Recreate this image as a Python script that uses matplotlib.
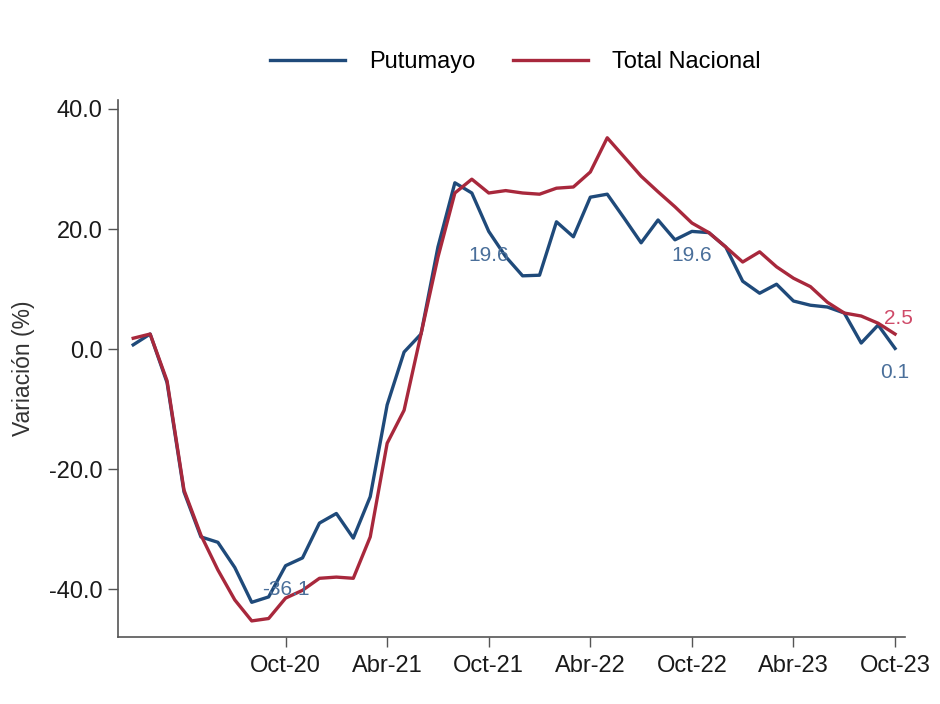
import matplotlib
matplotlib.use("Agg")
import matplotlib.pyplot as plt
import numpy as np

plt.rcParams['font.family'] = ['Liberation Sans', 'DejaVu Sans']

# Monthly series, Jan-20 .. Oct-23
months = ["Ene-20","Feb-20","Mar-20","Abr-20","May-20","Jun-20","Jul-20","Ago-20","Sep-20","Oct-20",
          "Nov-20","Dic-20","Ene-21","Feb-21","Mar-21","Abr-21","May-21","Jun-21","Jul-21","Ago-21",
          "Sep-21","Oct-21","Nov-21","Dic-21","Ene-22","Feb-22","Mar-22","Abr-22","May-22","Jun-22",
          "Jul-22","Ago-22","Sep-22","Oct-22","Nov-22","Dic-22","Ene-23","Feb-23","Mar-23","Abr-23",
          "May-23","Jun-23","Jul-23","Ago-23","Sep-23","Oct-23"]

putumayo = [0.7, 2.5, -5.6, -23.8, -31.3, -32.2, -36.4, -42.2, -41.3, -36.1,
            -34.8, -29.0, -27.4, -31.5, -24.6, -9.3, -0.5, 2.5, 17.0, 27.7,
            26.0, 19.6, 15.4, 12.2, 12.3, 21.2, 18.7, 25.3, 25.8, 21.8,
            17.7, 21.5, 18.2, 19.6, 19.4, 17.0, 11.3, 9.3, 10.8, 8.0,
            7.3, 7.0, 6.0, 1.0, 4.0, 0.1]

nacional = [1.8, 2.5, -5.3, -23.5, -31.0, -36.8, -41.8, -45.3, -44.9, -41.5,
            -40.2, -38.2, -38.0, -38.2, -31.3, -15.7, -10.2, 2.5, 15.3, 26.0,
            28.3, 26.0, 26.4, 26.0, 25.8, 26.8, 27.0, 29.5, 35.2, 32.0,
            28.8, 26.2, 23.7, 21.0, 19.4, 17.0, 14.5, 16.2, 13.7, 11.8,
            10.4, 7.8, 6.0, 5.5, 4.3, 2.5]

tick_labels = ["Oct-20", "Abr-21", "Oct-21", "Abr-22", "Oct-22", "Abr-23", "Oct-23"]
y_ticks = [-40.0, -20.0, 0.0, 20.0, 40.0]

# labelled points: (index, value text)
labels_put = [(9, "-36.1"), (21, "19.6"), (33, "19.6"), (45, "0.1")]
labels_nac = [(45, "2.5")]

c_put = "#1f4a7a"
c_nac = "#a8283c"

fig = plt.figure(figsize=(9.4, 7.04), dpi=100)
ax = fig.add_axes([0.1255, 0.095, 0.8375, 0.763])

x = np.arange(len(months))
ax.plot(x, putumayo, color=c_put, lw=2.4, label="Putumayo")
ax.plot(x, nacional, color=c_nac, lw=2.4, label="Total Nacional")

ax.set_xlim(-0.9, 45.6)
ax.set_ylim(-48, 41.5)

tick_pos = [months.index(t) for t in tick_labels]
ax.set_xticks(tick_pos)
ax.set_xticklabels(tick_labels)
ax.set_yticks(y_ticks)
ax.set_yticklabels([f"{v:.1f}" for v in y_ticks])

for s in ["top", "right"]:
    ax.spines[s].set_visible(False)
for s in ["left", "bottom"]:
    ax.spines[s].set_color("#555555")
    ax.spines[s].set_linewidth(1.2)
ax.tick_params(axis="both", colors="#555555", labelcolor="#1a1a1a", labelsize=17, length=7, width=1.0)
ax.tick_params(axis="x", pad=6)
ax.tick_params(axis="y", pad=4)

ax.set_ylabel("Variación (%)", fontsize=16.5, color="#333333", labelpad=10)

for i, t in labels_put:
    ax.annotate(t, (x[i], putumayo[i]), xytext=(0, -24), textcoords="offset pixels",
                ha="center", va="center", fontsize=15, color="#4a6f9a")
for i, t in labels_nac:
    ax.annotate(t, (x[i], nacional[i]), xytext=(3, 16), textcoords="offset pixels",
                ha="center", va="center", fontsize=15, color="#cf4a68")

fig.legend(loc="center", bbox_to_anchor=(0.548, 0.912), ncol=2, frameon=False,
           fontsize=17, handlelength=3.2, columnspacing=1.6, handletextpad=1.0)

fig.savefig("out.png", dpi=100, facecolor="white")
